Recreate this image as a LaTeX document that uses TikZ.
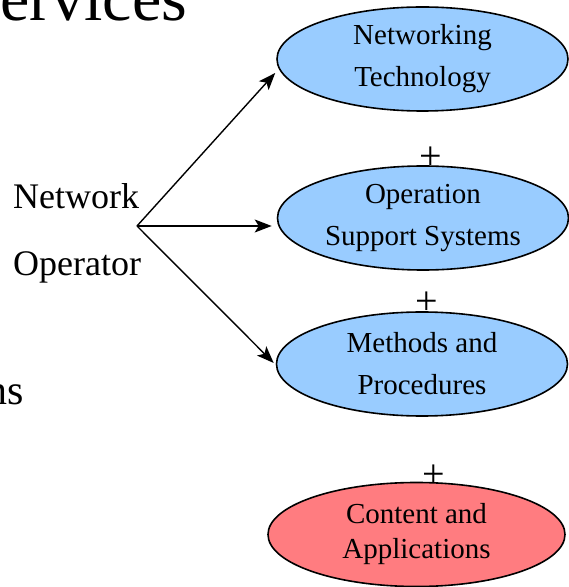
\documentclass[tikz,border=0pt]{standalone}
\usepackage{fontspec}
\setmainfont{Liberation Serif}
\usetikzlibrary{positioning,arrows.meta,shapes.geometric}

\definecolor{layerblue}{RGB}{153,204,255}
\definecolor{layerred}{RGB}{255,124,128}

\tikzset{
	layer/.style={ellipse, draw=black, line width=1.6pt, fill=layerblue, inner sep=0pt,
		minimum width=291pt, minimum height=104pt, align=center,
		font=\fontsize{29}{42}\selectfont},
	plussign/.style={inner sep=0pt, font=\fontsize{40}{40}\selectfont},
	link/.style={line width=1.4pt, -{Stealth[length=17pt,width=13pt,inset=4pt]}},
	slidetext/.style={inner sep=0pt, font=\fontsize{36}{40}\selectfont}
}

\begin{document}
\begin{tikzpicture}[x=1pt,y=1pt]
				\useasboundingbox (0,0) rectangle (569,587);
				
				% Cut-off slide text
				\node[inner sep=0pt, anchor=base west, font=\fontsize{66}{66}\selectfont] (title) at (0,566) {ervices};
				\node[inner sep=0pt, anchor=base east, font=\fontsize{42}{42}\selectfont] (bullet) at (24,182) {ns};
				
				% Operator label
				\node[slidetext, anchor=base west] (net) at (13,378) {Network};
				\node[slidetext, anchor=base west] (oper) at (13,311) {Operator};
				\coordinate (op) at (137,361);
				
				% Ellipses
				\node[layer] (tech) at (422.5,528) {Networking\\Technology};
				\node[layer] (oss) at (423,369) {Operation\\Support Systems};
				\node[layer] (mp) at (422,223) {Methods and\\Procedures};
				\node[layer, fill=layerred, minimum width=297pt, font=\fontsize{29}{35}\selectfont] (ca) at (416.5,52.5) {Content and\\Applications};
				
				% Plus signs
				\node[plussign, above=-5pt of oss, xshift=8pt] (p1) {+};
				\node[plussign, above=-4pt of mp, xshift=5pt] (p2) {+};
				\node[plussign, above=-6pt of ca, xshift=17.5pt] (p3) {+};
				
				% Arrows
				\draw[link] (op) -- ([xshift=-1pt,yshift=-14pt]tech.west);
				\draw[link] (op) -- ([xshift=-5pt,yshift=-8pt]oss.west);
				\draw[link] (op) -- ([xshift=-2pt,yshift=1pt]mp.west);
			\end{tikzpicture}
\end{document}
